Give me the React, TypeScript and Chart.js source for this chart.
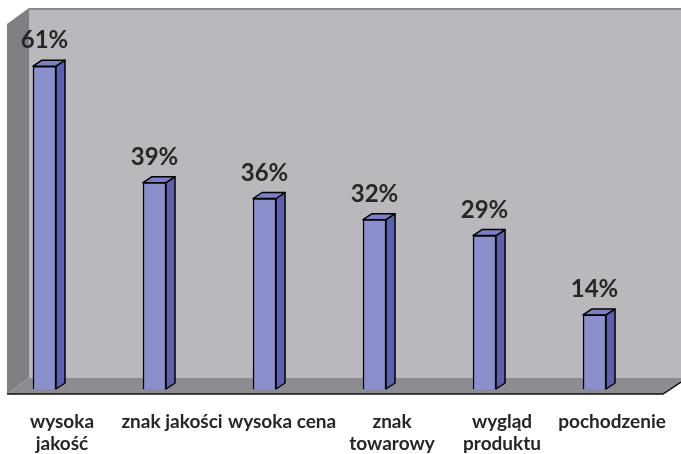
import React, { useEffect, useRef } from "react";
import { Chart, registerables } from "chart.js";

Chart.register(...registerables);

const categories = ["wysoka jakość", "znak jakości", "wysoka cena", "znak towarowy", "wygląd produktu", "pochodzenie"];
const categoryLines = [["wysoka", "jakość"], ["znak jakości"], ["wysoka cena"], ["znak", "towarowy"], ["wygląd", "produktu"], ["pochodzenie"]];
const values = [61, 39, 36, 32, 29, 14];
const valueLabels = ["61%", "39%", "36%", "32%", "29%", "14%"];

const DX = 9;
const DY = 6;

const scenePlugin = {
  id: "scene3d",
  beforeDraw(chart: any) {
    const { ctx, chartArea } = chart;
    const { left, right, top, bottom } = chartArea;
    ctx.save();
    ctx.fillStyle = "#ffffff";
    ctx.fillRect(0, 0, chart.width, chart.height);
    const wallL = left + 7;
    const wallR = left + 29;
    const floorBack = bottom - 11;
    const floorFront = bottom + 5;
    // back wall
    ctx.fillStyle = "#b9b9bd";
    ctx.fillRect(wallR, top, right - wallR, floorBack - top);
    ctx.strokeStyle = "#8a8a8e";
    ctx.lineWidth = 2;
    ctx.beginPath();
    ctx.moveTo(wallR, top + 1);
    ctx.lineTo(right, top + 1);
    ctx.stroke();
    // left wall
    ctx.fillStyle = "#808084";
    ctx.beginPath();
    ctx.moveTo(wallL, top + 16);
    ctx.lineTo(wallR, top);
    ctx.lineTo(wallR, floorBack);
    ctx.lineTo(wallL, floorFront);
    ctx.closePath();
    ctx.fill();
    // floor
    ctx.fillStyle = "#8d8d91";
    ctx.beginPath();
    ctx.moveTo(wallL, floorFront);
    ctx.lineTo(wallR, floorBack);
    ctx.lineTo(right, floorBack);
    ctx.lineTo(right, floorBack + 4);
    ctx.lineTo(right - 18, floorFront);
    ctx.closePath();
    ctx.fill();
    ctx.strokeStyle = "#111111";
    ctx.lineWidth = 1.5;
    ctx.beginPath();
    ctx.moveTo(wallL, floorFront);
    ctx.lineTo(right - 18, floorFront);
    ctx.lineTo(right, floorBack + 4);
    ctx.stroke();
    ctx.restore();
  },
  beforeDatasetsDraw(chart: any) {
    const { ctx } = chart;
    const meta = chart.getDatasetMeta(0);
    ctx.save();
    ctx.lineWidth = 1.5;
    ctx.strokeStyle = "#000000";
    ctx.lineJoin = "round";
    meta.data.forEach((bar: any) => {
      const p = bar.getProps(["x", "y", "base", "width"], true);
      const l = p.x - p.width / 2;
      const r = p.x + p.width / 2;
      // side face
      ctx.fillStyle = "#5c60ae";
      ctx.beginPath();
      ctx.moveTo(r, p.y);
      ctx.lineTo(r + DX, p.y - DY);
      ctx.lineTo(r + DX, p.base - DY);
      ctx.lineTo(r, p.base);
      ctx.closePath();
      ctx.fill();
      ctx.stroke();
      // top face
      ctx.fillStyle = "#7b7fc4";
      ctx.beginPath();
      ctx.moveTo(l, p.y);
      ctx.lineTo(l + DX, p.y - DY);
      ctx.lineTo(r + DX, p.y - DY);
      ctx.lineTo(r, p.y);
      ctx.closePath();
      ctx.fill();
      ctx.stroke();
    });
    ctx.restore();
  },
  afterDatasetsDraw(chart: any) {
    const { ctx } = chart;
    const meta = chart.getDatasetMeta(0);
    ctx.save();
    ctx.fillStyle = "#262626";
    ctx.font = "bold 24px Lato";
    ctx.textAlign = "center";
    ctx.textBaseline = "alphabetic";
    meta.data.forEach((bar: any, i: number) => {
      const p = bar.getProps(["x", "y"], true);
      ctx.fillText(valueLabels[i], p.x, p.y - 18);
    });
    ctx.restore();
  },
};

export default function App() {
  const ref = useRef<HTMLCanvasElement>(null);
  useEffect(() => {
    if (!ref.current) return;
    const chart = new Chart(ref.current, {
      type: "bar",
      data: {
        labels: categories,
        datasets: [
          {
            data: values.map((v, i) => ({ x: i, y: v })),
            backgroundColor: "#8b8fcc",
            borderColor: "#000000",
            borderWidth: 1.5,
            barThickness: 23,
          },
        ],
      },
      options: {
        animation: false,
        responsive: false,
        maintainAspectRatio: false,
        layout: { padding: { left: 0, right: 0, top: 8, bottom: 0 } },
        plugins: { legend: { display: false }, tooltip: { enabled: false } },
        scales: {
          x: {
            type: "linear",
            offset: false,
            min: -0.4045,
            max: 5.786,
            grid: { display: false, drawTicks: false },
            border: { display: false },
            afterFit: (scale: any) => {
              scale.height = 65;
              scale.paddingLeft = 0;
              scale.paddingRight = 0;
            },
            ticks: {
              stepSize: 1,
              includeBounds: false,
              maxRotation: 0,
              autoSkip: false,
              padding: 22,
              labelOffset: 17.5,
              color: "#262626",
              font: { family: "Lato", size: 19, weight: "bold", lineHeight: 1.16 },
              callback: (v: any) => (Number.isInteger(v) && categoryLines[v] ? categoryLines[v] : ""),
            },
          },
          y: { display: false, min: 0, max: 72 },
        },
      },
      plugins: [scenePlugin],
    } as any);
    return () => chart.destroy();
  }, []);
  return (
    <div style={{ position: "absolute", left: 0, top: 0, width: 681, height: 454 }}>
      <canvas ref={ref} width={681} height={454} style={{ display: "block", width: 681, height: 454 }} />
    </div>
  );
}
